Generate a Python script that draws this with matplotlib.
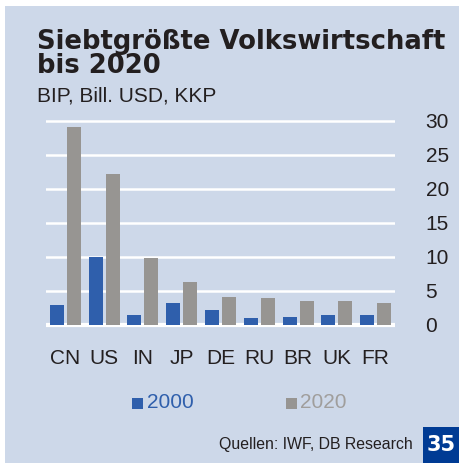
import matplotlib.pyplot as plt
import numpy as np

# data
countries = ['CN', 'US', 'IN', 'JP', 'DE', 'RU', 'BR', 'UK', 'FR']
gdp_2000 = [3.0, 10.0, 1.5, 3.2, 2.2, 1.1, 1.2, 1.5, 1.5]
gdp_2020 = [29.1, 22.2, 9.8, 6.3, 4.1, 4.0, 3.6, 3.5, 3.2]
yticks = [0, 5, 10, 15, 20, 25, 30]

bg = '#cdd8e9'
blue = '#2f5fac'
grey = '#979592'

fig = plt.figure(figsize=(4.6, 4.63), dpi=100)
fig.patch.set_facecolor('white')

# light blue panel
fig.patches.append(plt.Rectangle((5/460, 0), 1, 1 - 6/463, transform=fig.transFigure,
                                 facecolor=bg, edgecolor='none', zorder=-5))

ax = fig.add_axes([46/460, 1 - 328.4/463, 349/460, 210.8/463])
ax.set_facecolor('none')
ax.set_zorder(2)

x = np.arange(len(countries))
w = 0.36
ax.bar(x - 0.22, gdp_2000, w, color=blue, zorder=3)
ax.bar(x + 0.22, gdp_2020, w, color=grey, zorder=3)

for t in yticks:
    ax.axhline(t, color='white', lw=3.0 if t == 0 else 1.8, zorder=1)

ax.set_xlim(-0.5, len(countries) - 0.5)
ax.set_ylim(-0.5, 30.5)
ax.yaxis.tick_right()
ax.set_yticks(yticks)
ax.set_yticklabels([str(t) for t in yticks], ha='left')
ax.set_xticks(x)
ax.set_xticklabels(countries)
ax.tick_params(axis='y', length=0, pad=22, labelsize=15, labelcolor='#231f20')
ax.tick_params(axis='x', length=0, pad=15, labelsize=15, labelcolor='#231f20')
for s in ax.spines.values():
    s.set_visible(False)
for lbl in ax.get_xticklabels() + ax.get_yticklabels():
    lbl.set_family('Liberation Sans')

# titles
fig.text(37/460, 1 - 29/463, 'Siebtgrößte Volkswirtschaft\nbis 2020', ha='left', va='top',
         fontsize=18.6, fontweight='bold', family='DejaVu Sans', color='#231f20',
         linespacing=0.88)
fig.text(37/460, 1 - 102/463, 'BIP, Bill. USD, KKP', ha='left', va='baseline',
         fontsize=15, family='Liberation Sans', color='#231f20')

# legend
for sx, tx, label, col, tcol in [(131.7, 147, '2000', blue, blue), (286, 300, '2020', grey, '#a09e9c')]:
    fig.patches.append(plt.Rectangle((sx/460, 1 - 408.5/463), 11/460, 11/463,
                                     transform=fig.transFigure, facecolor=col, edgecolor='none'))
    fig.text(tx/460, 1 - 403/463, label, ha='left', va='center', fontsize=15,
             family='Liberation Sans', color=tcol)

# source and page number
fig.text(413/460, 1 - 444/463, 'Quellen: IWF, DB Research', ha='right', va='center',
         fontsize=11.4, family='Liberation Sans', color='#231f20')
fig.patches.append(plt.Rectangle((423/460, 0), 37/460, 36/463, transform=fig.transFigure,
                                 facecolor='#003b94', edgecolor='none'))
fig.text(441.5/460, 1 - 445/463, '35', ha='center', va='center', fontsize=15,
         fontweight='bold', family='DejaVu Sans', color='white')

fig.savefig('out.png', dpi=100, facecolor='white')
